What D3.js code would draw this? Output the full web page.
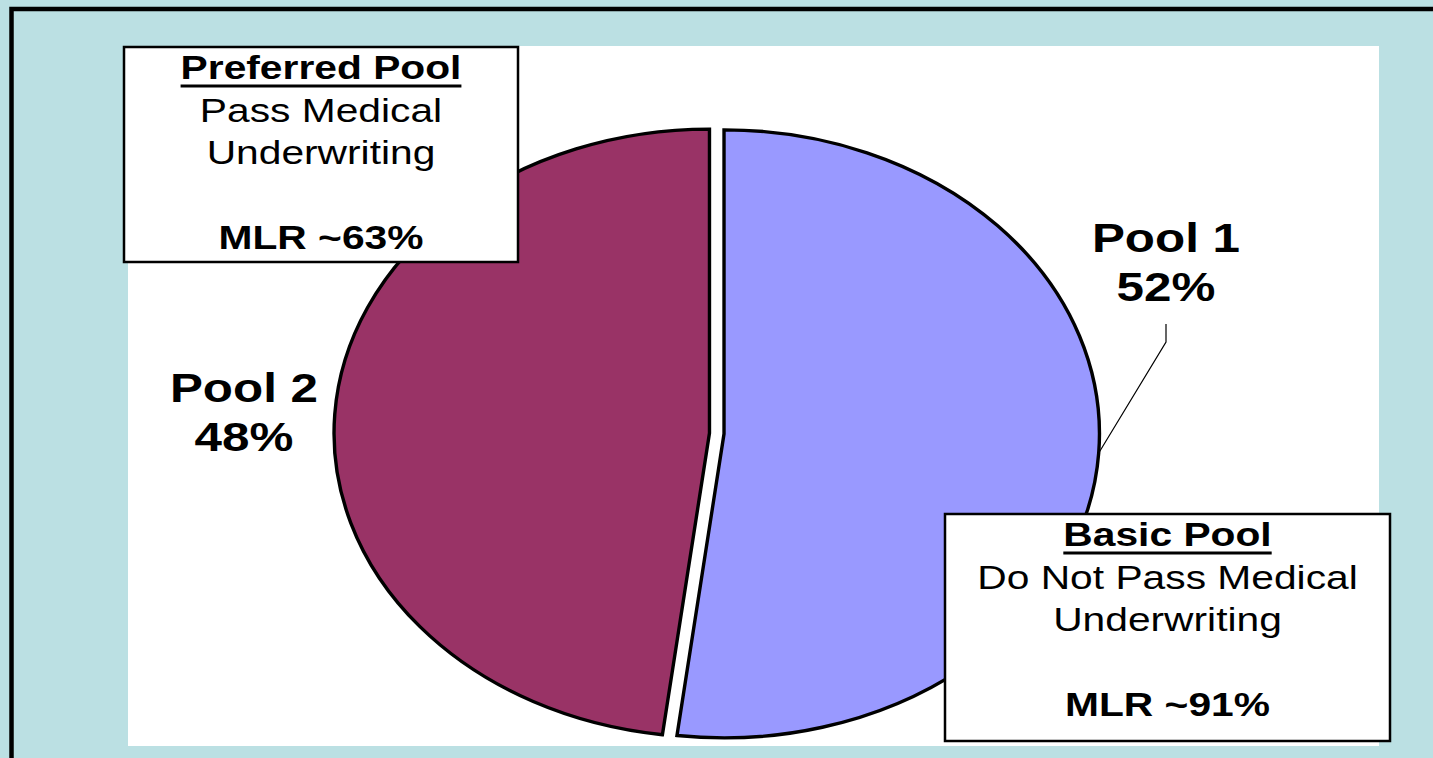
<!DOCTYPE html>
<html>
<head>
<meta charset="utf-8">
<script src="https://d3js.org/d3.v7.min.js"></script>
<style>
    body { margin: 0; background: #BBE0E3; }
    svg { display: block; }
</style>
</head>
<body>
<script>
// data
const pools = ["Pool 1", "Pool 2"];
const shares = [52, 48];
const boxTitles = ["Preferred Pool", "Basic Pool"];
const boxLines = [["Pass Medical", "Underwriting"], ["Do Not Pass Medical", "Underwriting"]];
const boxMLR = ["MLR ~63%", "MLR ~91%"];

const colors = ["#9999FF", "#993366"];
const font = "'Liberation Sans', Arial, sans-serif";

let width = 1433, height = 758;
let sx = 1.235;          // picture is stretched sideways
let cx = 716.75, cy = 433.5, r = 304, explode = 5.9;

let svg = d3.select("body").append("svg")
    .attr("width", width)
    .attr("height", height);

// backdrop, frame and white plot area
svg.append("rect").attr("width", width).attr("height", height).style("fill", "#BBE0E3");
svg.append("rect")
    .attr("x", 11.5).attr("y", 9).attr("width", 1500).attr("height", 800)
    .style("fill", "none").style("stroke", "black").style("stroke-width", 4.5);
svg.append("rect")
    .attr("x", 128).attr("y", 46).attr("width", 1251).attr("height", 700)
    .style("fill", "white");

// pie
let pie = d3.pie().sort(null).value(d => d);
let arcs = pie(shares);
let arc = d3.arc().innerRadius(0).outerRadius(r);

let gPie = svg.append("g")
    .attr("transform", `translate(${cx},${cy}) scale(${sx},1)`);

gPie.selectAll("path")
    .data(arcs)
    .join("path")
        .attr("d", arc)
        .attr("transform", d => {
            let mid = (d.startAngle + d.endAngle) / 2;
            return `translate(${explode * Math.sin(mid)},${-explode * Math.cos(mid)})`;
        })
        .attr("vector-effect", "non-scaling-stroke")
        .style("fill", (d, i) => colors[i])
        .style("stroke", "black")
        .style("stroke-width", 3.4)
        .style("stroke-linejoin", "miter");

function stretchedText(g, str, x, y, size, weight) {
    return g.append("text")
        .attr("transform", `translate(${x},${y}) scale(${sx},1)`)
        .attr("text-anchor", "middle")
        .style("font-family", font)
        .style("font-size", size + "px")
        .style("font-weight", weight)
        .style("fill", "black")
        .text(str);
}

// slice labels
let labelPos = [[1166, 252], [244, 402]];
arcs.forEach((d, i) => {
    stretchedText(svg, pools[i], labelPos[i][0], labelPos[i][1], 40, "bold");
    stretchedText(svg, d3.format(".0f")(d.data) + "%", labelPos[i][0], labelPos[i][1] + 49, 40, "bold");
});

// leader line for Pool 1, to the middle of its arc
let a0 = (arcs[0].startAngle + arcs[0].endAngle) / 2;
let ex = cx + sx * (explode + r) * Math.sin(a0);
let ey = cy - (explode + r) * Math.cos(a0);
svg.append("path")
    .attr("d", `M1166,324V342L${ex},${ey}`)
    .style("fill", "none")
    .style("stroke", "black")
    .style("stroke-width", 1.2);

// text boxes
let boxes = [
    { x: 124, y: 47, w: 394, h: 215, base: 79 },
    { x: 945, y: 514, w: 445, h: 227, base: 546 }
];
let lh = 42.5;
boxes.forEach((b, i) => {
    let g = svg.append("g");
    g.append("rect")
        .attr("x", b.x).attr("y", b.y).attr("width", b.w).attr("height", b.h)
        .style("fill", "white").style("stroke", "black").style("stroke-width", 2.5);
    let mx = b.x + b.w / 2;
    let t = stretchedText(g, boxTitles[i], mx, b.base, 33, "bold");
    let tw = t.node().getComputedTextLength() * sx;
    g.append("rect")
        .attr("x", mx - tw / 2).attr("y", b.base + 5.5)
        .attr("width", tw).attr("height", 3)
        .style("fill", "black");
    boxLines[i].forEach((s, j) => {
        stretchedText(g, s, mx, b.base + lh * (j + 1), 33, "normal");
    });
    stretchedText(g, boxMLR[i], mx, b.base + lh * 4, 33, "bold");
});
</script>
</body>
</html>
